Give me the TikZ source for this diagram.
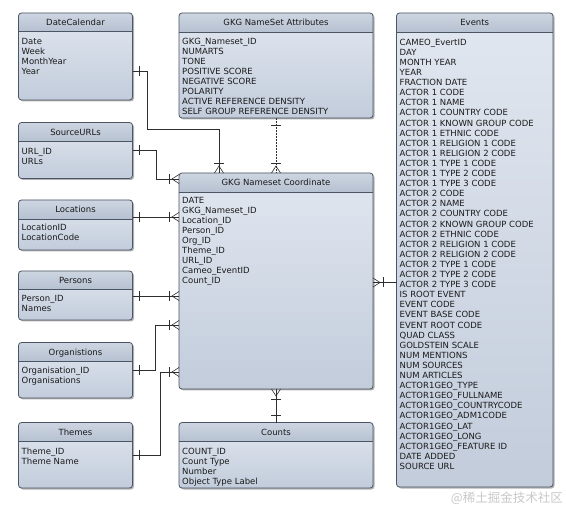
\documentclass[tikz,border=0pt]{standalone}
\usepackage{fontspec}
\setmainfont{DejaVu Sans}
\newfontfamily\cjkfont{Noto Sans CJK SC}
\usetikzlibrary{shadows}
\definecolor{boxline}{HTML}{4B5563}
\definecolor{bodytop}{HTML}{E1E7F0}
\definecolor{bodybot}{HTML}{C2CCDB}
\definecolor{hdrtop}{HTML}{CDD5E1}
\definecolor{hdrbot}{HTML}{B6C1D1}
\definecolor{conn}{HTML}{2E2E2E}
\definecolor{wm}{HTML}{C9C9C9}
\definecolor{txt}{HTML}{1A1A1A}
\tikzset{
  ebody/.style={rectangle, rounded corners=3pt, anchor=north west, inner sep=0pt, outer sep=0pt,
    top color=bodytop, bottom color=bodybot,
    drop shadow={shadow xshift=1.5pt, shadow yshift=-1.5pt, opacity=0.3, fill=black}},
  etitle/.style={anchor=base, inner sep=0pt, text=txt, font=\fontsize{8.5}{10}\selectfont},
  efields/.style={anchor=north west, inner sep=0pt, align=left, text=txt, font=\fontsize{8.5}{10}\selectfont},
  rel/.style={draw=conn, line width=0.6pt},
  one/.pic={\draw[rel] (7,-5) -- (7,5);},
  many/.pic={\draw[rel] (0,-4.5) -- (7,0) -- (0,4.5); \draw[rel] (10,-5) -- (10,5);}
}
\newcommand\entity[9]{%
  \node[ebody, minimum width=#4pt, minimum height=#5pt] (#1) at (#2,#3) {};
  \begin{scope}
    \clip[rounded corners=3pt] (#1.north west) rectangle (#1.south east);
    \shade[top color=hdrtop, bottom color=hdrbot] (#1.north west) rectangle ([yshift=-#6pt]#1.north east);
  \end{scope}
  \draw[boxline, line width=0.6pt] ([yshift=-#6pt]#1.north west) -- ([yshift=-#6pt]#1.north east);
  \draw[boxline, line width=0.8pt, rounded corners=3pt] (#1.north west) rectangle (#1.south east);
  \node[etitle] (#1-t) at ([yshift=-13pt]#1.north) {#8};
  \node[efields] (#1-f) at ([xshift=3pt,yshift=-#7pt+6.8pt]#1.north west) {\rule{0pt}{6.8pt}#9};
}
\begin{document}
\begin{tikzpicture}[x=1pt, y=-1pt]
\fill[white] (0,0) rectangle (566,508);
\useasboundingbox (0,0) rectangle (566,508);

\entity{dc}{18.5}{13}{114}{87}{18}{31}{DateCalendar}{Date\\Week\\MonthYear\\Year}
\entity{src}{18.5}{122.5}{114}{56}{19}{31.5}{SourceURLs}{URL\_ID\\URLs}
\entity{loc}{18.5}{200}{114}{50}{19}{30}{Locations}{LocationID\\LocationCode}
\entity{per}{18.5}{271}{114}{49}{18.5}{30.5}{Persons}{Person\_ID\\Names}
\entity{org}{18.5}{342.5}{114}{55.5}{18.5}{30.5}{Organistions}{Organisation\_ID\\Organisations}
\entity{thm}{18.5}{422.5}{114}{65.5}{19}{31.5}{Themes}{Theme\_ID\\Theme Name}
\entity{att}{179}{13}{194}{105}{19}{31}{GKG NameSet Attributes}{GKG\_Nameset\_ID\\NUMARTS\\TONE\\POSITIVE SCORE\\NEGATIVE SCORE\\POLARITY\\ACTIVE REFERENCE DENSITY\\SELF GROUP REFERENCE DENSITY}
\entity{crd}{179}{173}{194}{216}{19}{30}{GKG Nameset Coordinate}{DATE\\GKG\_Nameset\_ID\\Location\_ID\\Person\_ID\\Org\_ID\\Theme\_ID\\URL\_ID\\Cameo\_EventID\\Count\_ID}
\entity{cnt}{179}{422.5}{194}{65.5}{19}{31.5}{Counts}{COUNT\_ID\\Count Type\\Number\\Object Type Label}
\begin{scope}[efields/.append style={font=\fontsize{8.5}{10.1}\selectfont}]
\entity{evt}{396.5}{13}{156.5}{474}{19}{32}{Events}{CAMEO\_EvertID\\DAY\\MONTH YEAR\\YEAR\\FRACTION DATE\\ACTOR 1 CODE\\ACTOR 1 NAME\\ACTOR 1 COUNTRY CODE\\ACTOR 1 KNOWN GROUP CODE\\ACTOR 1 ETHNIC CODE\\ACTOR 1 RELIGION 1 CODE\\ACTOR 1 RELIGION 2 CODE\\ACTOR 1 TYPE 1 CODE\\ACTOR 1 TYPE 2 CODE\\ACTOR 1 TYPE 3 CODE\\ACTOR 2 CODE\\ACTOR 2 NAME\\ACTOR 2 COUNTRY CODE\\ACTOR 2 KNOWN GROUP CODE\\ACTOR 2 ETHNIC CODE\\ACTOR 2 RELIGION 1 CODE\\ACTOR 2 RELIGION 2 CODE\\ACTOR 2 TYPE 1 CODE\\ACTOR 2 TYPE 2 CODE\\ACTOR 2 TYPE 3 CODE\\IS ROOT EVENT\\EVENT CODE\\EVENT BASE CODE\\EVENT ROOT CODE\\QUAD CLASS\\GOLDSTEIN SCALE\\NUM MENTIONS\\NUM SOURCES\\NUM ARTICLES\\ACTOR1GEO\_TYPE\\ACTOR1GEO\_FULLNAME\\ACTOR1GEO\_COUNTRYCODE\\ACTOR1GEO\_ADM1CODE\\ACTOR1GEO\_LAT\\ACTOR1GEO\_LONG\\ACTOR1GEO\_FEATURE ID\\DATE ADDED\\SOURCE URL}
\end{scope}

% connectors
\draw[rel] (dc.east |- 0,71) -- (147,71) -- (147,129) -- (219,129) -- (crd.north -| 219,0);
\path (dc.east |- 0,71) pic{one};
\path (crd.north -| 219,0) pic[rotate=90]{many};

\draw[rel, dash pattern=on 0.8pt off 0.7pt] (att.south) -- (crd.north -| att.south);
\path (att.south) pic[rotate=-90]{one};
\path (crd.north -| att.south) pic[rotate=90]{many};

\draw[rel] (src.east |- 0,150) -- (156,150) -- (156,179) -- (crd.west |- 0,179);
\path (src.east |- 0,150) pic{one};
\path (crd.west |- 0,179) pic[rotate=180]{many};

\draw[rel] (loc.east |- 0,217) -- (crd.west |- 0,217);
\path (loc.east |- 0,217) pic{one};
\path (crd.west |- 0,217) pic[rotate=180]{many};

\draw[rel] (per.east |- 0,296) -- (crd.west |- 0,296);
\path (per.east |- 0,296) pic{one};
\path (crd.west |- 0,296) pic[rotate=180]{many};

\draw[rel] (org.east |- 0,370) -- (155,370) -- (155,325) -- (crd.west |- 0,325);
\path (org.east |- 0,370) pic{one};
\path (crd.west |- 0,325) pic[rotate=180]{many};

\draw[rel] (thm.east |- 0,455) -- (160,455) -- (160,372) -- (crd.west |- 0,372);
\path (thm.east |- 0,455) pic{one};
\path (crd.west |- 0,372) pic[rotate=180]{many};

\draw[rel] (crd.east |- 0,282.5) -- (evt.west |- 0,282.5);
\path (crd.east |- 0,282.5) pic{many};

\draw[rel] (crd.south) -- (cnt.north -| crd.south);
\path (crd.south) pic[rotate=-90]{many};
\path (cnt.north -| crd.south) pic[rotate=90]{one};

\node[anchor=base east, inner sep=0pt, text=wm, font=\cjkfont\fontsize{12.5}{13}\selectfont] (wmk) at (563,502) {@稀土掘金技术社区};
\end{tikzpicture}
\end{document}
